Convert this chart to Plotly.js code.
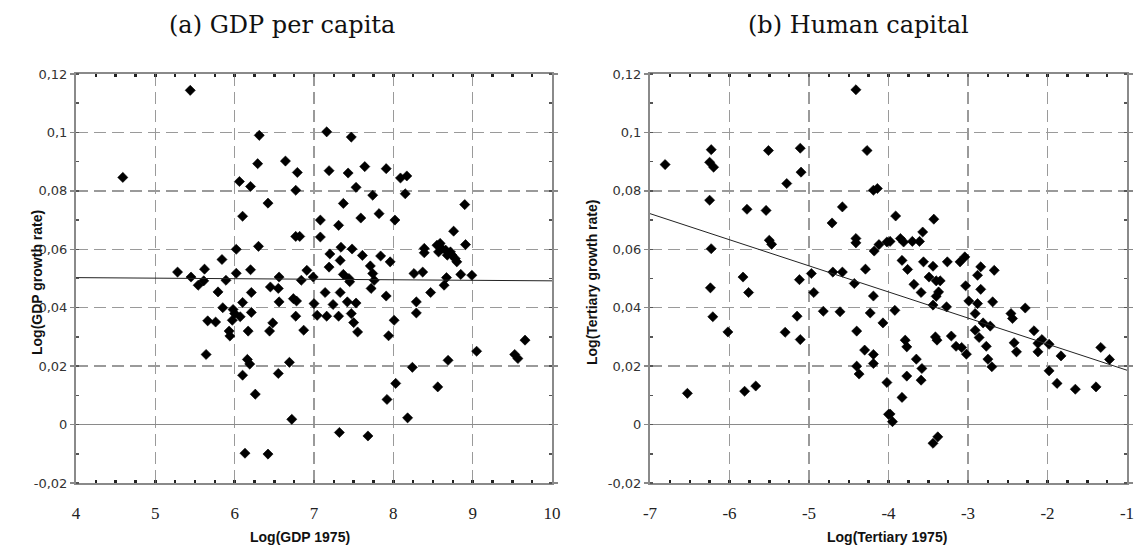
<!DOCTYPE html>
<html>
<head>
<meta charset="utf-8">
<script src="https://cdn.plot.ly/plotly-3.0.1.min.js"></script>
<style>html,body{margin:0;padding:0;background:#fff;}#chart{width:1138px;height:548px;}</style>
</head>
<body>
<div id="chart"></div>
<script>
// ---- Panel (a): GDP per capita ----
const gdpX = [4.59,5.44,6.31,6.29,6.64,6.79,6.06,6.20,6.77,6.42,6.10,6.77,6.82,6.02,6.30,5.84,7.08,7.08,5.28,5.62,
  6.02,6.20,6.91,7.16,7.47,7.19,7.43,7.64,7.91,8.09,8.17,7.53,7.74,8.15,7.37,8.90,7.59,7.82,8.02,7.31,
  8.76,8.91,7.20,7.34,7.48,7.61,7.84,7.96,7.33,7.19,7.71,8.39,8.39,8.37,8.26,8.55,8.59,8.61,8.66,8.68,
  8.74,8.78,8.80,8.57,8.72,8.67,8.64,8.85,8.99,5.45,5.54,5.61,5.89,5.79,6.21,6.10,5.85,5.98,6.00,6.21,
  6.07,5.66,5.76,5.97,5.93,5.94,6.17,6.44,6.48,6.56,6.74,6.78,6.45,6.55,6.56,6.84,7.00,6.77,6.87,7.04,
  5.64,6.16,6.19,6.10,6.55,6.69,6.26,6.72,6.13,6.42,6.99,7.37,7.44,7.45,7.74,7.76,7.72,7.91,8.47,7.14,
  7.33,7.24,7.42,7.53,7.16,7.31,7.47,7.50,7.55,8.29,8.29,8.01,7.94,9.66,9.05,9.53,9.57,8.69,8.24,8.03,
  8.56,7.92,8.18,7.32,7.68];
const gdpY = [0.0846,0.1144,0.0990,0.0893,0.0902,0.0863,0.0832,0.0815,0.0802,0.0758,0.0713,0.0644,0.0644,0.0600,0.0610,0.0565,0.0700,0.0642,0.0522,0.0532,
  0.0518,0.0530,0.0528,0.1002,0.0984,0.0869,0.0861,0.0883,0.0876,0.0844,0.0851,0.0812,0.0785,0.0790,0.0757,0.0753,0.0707,0.0722,0.0700,0.0682,
  0.0662,0.0616,0.0584,0.0607,0.0601,0.0579,0.0577,0.0557,0.0562,0.0539,0.0543,0.0603,0.0588,0.0522,0.0517,0.0614,0.0620,0.0603,0.0597,0.0580,
  0.0580,0.0568,0.0557,0.0591,0.0591,0.0503,0.0477,0.0514,0.0511,0.0505,0.0477,0.0492,0.0494,0.0454,0.0452,0.0418,0.0400,0.0394,0.0380,0.0384,
  0.0369,0.0355,0.0351,0.0357,0.0320,0.0303,0.0320,0.0320,0.0348,0.0420,0.0431,0.0423,0.0471,0.0466,0.0505,0.0494,0.0414,0.0371,0.0323,0.0374,
  0.0240,0.0223,0.0207,0.0169,0.0175,0.0213,0.0104,0.0018,-0.0098,-0.0101,0.0505,0.0514,0.0500,0.0489,0.0517,0.0494,0.0466,0.0440,0.0452,0.0452,
  0.0452,0.0411,0.0420,0.0416,0.0371,0.0371,0.0380,0.0349,0.0317,0.0420,0.0382,0.0357,0.0304,0.0289,0.0251,0.0240,0.0226,0.0220,0.0196,0.0141,
  0.0129,0.0086,0.0023,-0.0027,-0.0039];
const gdpFitX = [4, 10];
const gdpFitY = [0.0503, 0.0492];

// ---- Panel (b): Human capital ----
const terX = [-6.81,-6.23,-6.25,-6.20,-6.25,-6.23,-5.78,-5.54,-5.51,-5.28,-5.11,-5.10,-5.50,-5.47,-4.41,-4.27,-4.19,-4.14,-4.58,-4.71,
  -4.41,-4.41,-4.18,-4.12,-4.02,-5.83,-4.97,-4.70,-4.58,-4.29,-5.12,-3.91,-3.43,-3.98,-3.85,-3.81,-3.70,-3.61,-3.57,-3.83,
  -3.76,-3.56,-3.44,-3.26,-3.10,-3.04,-2.84,-2.88,-2.67,-3.49,-3.40,-3.35,-6.53,-6.24,-6.21,-6.02,-5.76,-5.81,-5.67,-4.94,
  -5.15,-5.30,-5.11,-4.82,-4.61,-4.43,-4.19,-4.23,-4.07,-4.40,-4.30,-4.19,-4.19,-4.40,-4.37,-4.02,-4.00,-3.68,-3.59,-3.37,
  -3.40,-3.44,-3.27,-3.03,-2.84,-2.99,-2.88,-2.69,-3.92,-2.91,-2.81,-2.72,-2.46,-2.44,-2.28,-2.91,-2.86,-2.77,-2.75,-2.70,
  -3.79,-3.77,-3.41,-3.39,-3.21,-3.15,-3.08,-3.02,-3.65,-3.58,-3.77,-3.59,-3.83,-3.98,-3.95,-3.44,-3.38,-2.42,-2.39,-2.17,
  -2.07,-2.12,-2.12,-1.98,-1.83,-1.98,-1.88,-1.65,-1.39,-1.33,-1.22];
const terY = [0.0890,0.0941,0.0898,0.0881,0.0768,0.0602,0.0737,0.0733,0.0938,0.0825,0.0946,0.0864,0.0631,0.0617,0.1146,0.0938,0.0802,0.0808,0.0745,0.0690,
  0.0637,0.0622,0.0594,0.0616,0.0625,0.0505,0.0517,0.0522,0.0522,0.0532,0.0496,0.0714,0.0703,0.0627,0.0637,0.0625,0.0627,0.0627,0.0659,0.0562,
  0.0531,0.0557,0.0542,0.0557,0.0557,0.0574,0.0540,0.0511,0.0528,0.0505,0.0492,0.0492,0.0107,0.0468,0.0369,0.0317,0.0452,0.0114,0.0132,0.0452,
  0.0371,0.0316,0.0291,0.0388,0.0386,0.0483,0.0440,0.0382,0.0348,0.0320,0.0255,0.0240,0.0209,0.0200,0.0173,0.0144,0.0035,0.0480,0.0452,0.0454,
  0.0439,0.0409,0.0403,0.0475,0.0463,0.0423,0.0414,0.0420,0.0391,0.0380,0.0348,0.0337,0.0380,0.0363,0.0399,0.0323,0.0298,0.0268,0.0224,0.0198,
  0.0289,0.0266,0.0300,0.0289,0.0303,0.0268,0.0264,0.0241,0.0224,0.0192,0.0166,0.0152,0.0093,0.0036,0.0010,-0.0064,-0.0042,0.0280,0.0249,0.0321,
  0.0291,0.0278,0.0249,0.0275,0.0235,0.0184,0.0141,0.0121,0.0129,0.0264,0.0223];
const terFitX = [-7, -1];
const terFitY = [0.0722, 0.0186];

// ---- Tick labels ----
const yTickVals = [-0.02, 0, 0.02, 0.04, 0.06, 0.08, 0.10, 0.12];
const yTickText = ["-0,02", "0", "0,02", "0,04", "0,06", "0,08", "0,1", "0,12"];
const gdpTickVals = [4, 5, 6, 7, 8, 9, 10];
const gdpTickText = ["4", "5", "6", "7", "8", "9", "10"];
const terTickVals = [-7, -6, -5, -4, -3, -2, -1];
const terTickText = ["-7", "-6", "-5", "-4", "-3", "-2", "-1"];

const marker = {symbol: 'diamond', size: 7.8, color: '#000', line: {width: 0.6, color: '#000'}};
const traces = [
  {x: gdpX, y: gdpY, type: 'scatter', mode: 'markers', marker: marker, xaxis: 'x', yaxis: 'y', hoverinfo: 'x+y'},
  {x: gdpFitX, y: gdpFitY, type: 'scatter', mode: 'lines', line: {color: '#222', width: 1}, xaxis: 'x', yaxis: 'y'},
  {x: terX, y: terY, type: 'scatter', mode: 'markers', marker: marker, xaxis: 'x2', yaxis: 'y2', hoverinfo: 'x+y'},
  {x: terFitX, y: terFitY, type: 'scatter', mode: 'lines', line: {color: '#222', width: 1}, xaxis: 'x2', yaxis: 'y2'}
];

const gridCommon = {
  showgrid: true, gridcolor: '#9a9a9a', gridwidth: 1.5, griddash: '12px,6px',
  showline: true, linecolor: '#8a8a8a', linewidth: 2, mirror: 'allticks',
  zeroline: false, fixedrange: true
};
function xAxis(domain, range, vals, text) {
  return Object.assign({}, gridCommon, {
    domain: domain, range: range, tickmode: 'array', tickvals: vals, ticktext: text,
    ticks: 'inside', ticklen: 3, tickcolor: '#555', tickwidth: 1.5,
    minor: {ticks: 'inside', dtick: 0.25, ticklen: 3, tickcolor: '#222', tickwidth: 2.5, showgrid: false},
    tickfont: {family: 'Liberation Serif, serif', size: 17, color: '#222'},
    ticklabelstandoff: 14
  });
}
function yAxis(domain, anchor) {
  return Object.assign({}, gridCommon, {
    domain: domain, anchor: anchor, range: [-0.02, 0.12], tickmode: 'array', tickvals: yTickVals, ticktext: yTickText,
    ticks: 'outside', ticklen: 4, tickcolor: '#888', tickwidth: 1.5,
    minor: {ticks: 'inside', dtick: 0.01, ticklen: 3, tickcolor: '#555', tickwidth: 1.5, showgrid: false},
    zeroline: true, zerolinecolor: '#8a8a8a', zerolinewidth: 1.5,
    tickfont: {family: 'DejaVu Sans, sans-serif', size: 13, color: '#333'}
  });
}

const titleFont = {family: 'DejaVu Serif, serif', size: 24, color: '#111'};
const axFont = {family: 'Liberation Sans, Arial, sans-serif', size: 14, color: '#111', weight: 'bold'};

const layout = {
  width: 1138, height: 548,
  margin: {l: 0, r: 0, t: 0, b: 0},
  paper_bgcolor: '#fff', plot_bgcolor: '#fff',
  showlegend: false,
  xaxis: xAxis([76/1138, 552/1138], [4, 10], gdpTickVals, gdpTickText),
  yaxis: yAxis([1 - 483/548, 1 - 74/548], 'x'),
  xaxis2: Object.assign(xAxis([650/1138, 1127/1138], [-7, -1], terTickVals, terTickText), {anchor: 'y2'}),
  yaxis2: yAxis([1 - 483/548, 1 - 74/548], 'x2'),
  annotations: [
    {text: '(a) GDP per capita', xref: 'paper', yref: 'paper', x: 282/1138, y: 1 - 25/548, showarrow: false, font: titleFont, xanchor: 'center', yanchor: 'middle'},
    {text: '(b) Human capital', xref: 'paper', yref: 'paper', x: 858/1138, y: 1 - 25/548, showarrow: false, font: titleFont, xanchor: 'center', yanchor: 'middle'},
    {text: 'Log(GDP 1975)', xref: 'paper', yref: 'paper', x: 300/1138, y: 1 - 537/548, showarrow: false, font: axFont, xanchor: 'center', yanchor: 'middle'},
    {text: 'Log(Tertiary 1975)', xref: 'paper', yref: 'paper', x: 887/1138, y: 1 - 537/548, showarrow: false, font: axFont, xanchor: 'center', yanchor: 'middle'},
    {text: 'Log(GDP growth rate)', xref: 'paper', yref: 'paper', x: 37/1138, y: 1 - 283/548, showarrow: false, font: axFont, textangle: -90, xanchor: 'center', yanchor: 'middle'},
    {text: 'Log(Tertiary growth rate)', xref: 'paper', yref: 'paper', x: 592/1138, y: 1 - 283/548, showarrow: false, font: axFont, textangle: -90, xanchor: 'center', yanchor: 'middle'}
  ]
};

Plotly.newPlot('chart', traces, layout, {displayModeBar: false, staticPlot: true});
</script>
</body>
</html>
